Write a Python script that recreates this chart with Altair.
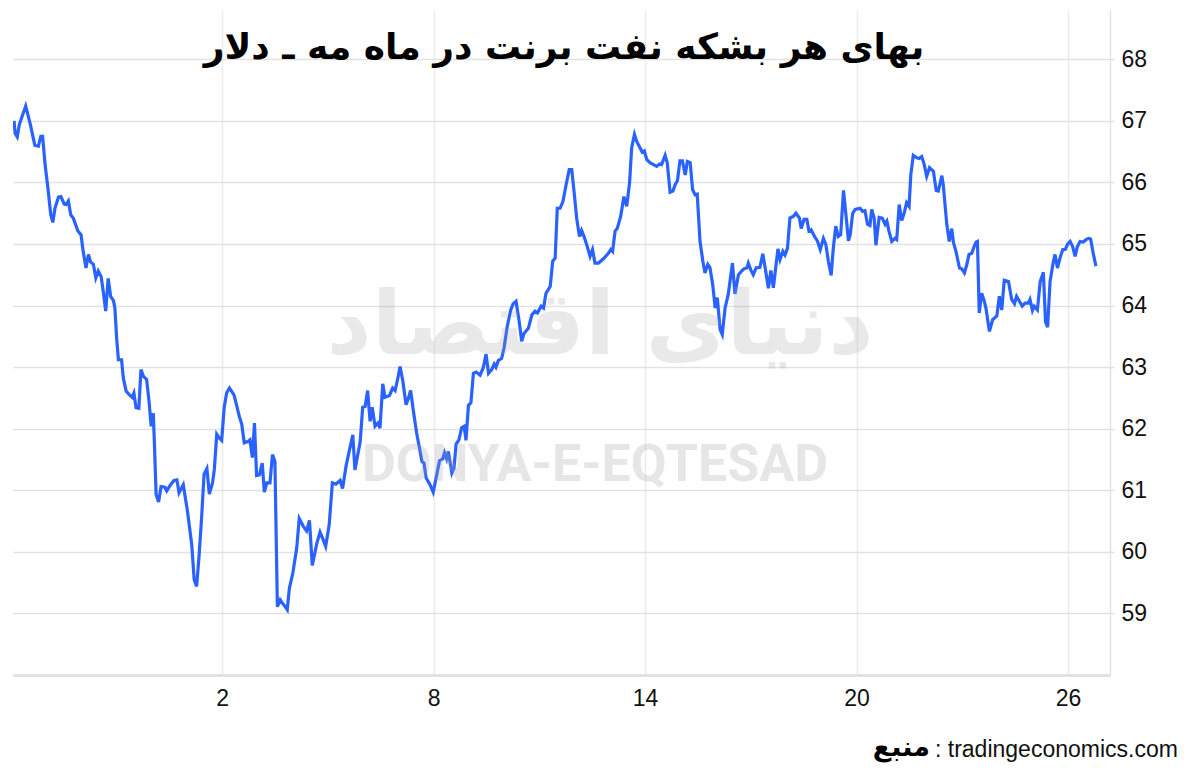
import altair as alt
import pandas as pd

# Day of May (fractional) and Brent price in USD per barrel
days = [
    -3.90, -3.87, -3.81, -3.75, -3.57, -3.45, -3.31, -3.21, -3.14, -3.09,
    -3.02, -2.93, -2.86, -2.80, -2.74, -2.64, -2.57, -2.48, -2.43, -2.36,
    -2.29, -2.22, -2.09, -2.00, -1.94, -1.86, -1.79, -1.73, -1.65, -1.58,
    -1.51, -1.43, -1.37, -1.30, -1.23, -1.16, -1.08, -1.04, -0.99, -0.94,
    -0.85, -0.80, -0.72, -0.61, -0.55, -0.50, -0.44, -0.36, -0.30, -0.23,
    -0.14, -0.07, -0.01, 0.05, 0.08, 0.13, 0.20, 0.27, 0.38, 0.43,
    0.55, 0.64, 0.72, 0.78, 0.90, 1.02, 1.14, 1.21, 1.28, 1.35,
    1.42, 1.49, 1.57, 1.64, 1.73, 1.78, 1.85, 1.92, 1.99, 2.06,
    2.13, 2.21, 2.34, 2.49, 2.56, 2.63, 2.73, 2.79, 2.86, 2.92,
    2.98, 3.06, 3.14, 3.20, 3.27, 3.36, 3.43, 3.50, 3.57, 3.65,
    3.71, 3.79, 3.85, 3.91, 4.01, 4.12, 4.19, 4.31, 4.40, 4.48,
    4.56, 4.69, 4.78, 4.86, 4.94, 5.04, 5.13, 5.23, 5.35, 5.42,
    5.52, 5.61, 5.71, 5.77, 5.92, 5.99, 6.06, 6.13, 6.20, 6.26,
    6.34, 6.42, 6.48, 6.56, 6.62, 6.75, 6.84, 6.91, 6.98, 7.05,
    7.13, 7.22, 7.29, 7.35, 7.43, 7.52, 7.60, 7.67, 7.73, 7.79,
    7.90, 7.99, 8.09, 8.17, 8.26, 8.31, 8.37, 8.42, 8.52, 8.58,
    8.64, 8.72, 8.80, 8.87, 8.92, 8.99, 9.06, 9.13, 9.21, 9.32,
    9.41, 9.49, 9.56, 9.65, 9.72, 9.77, 9.84, 9.93, 10.00, 10.09,
    10.19, 10.26, 10.34, 10.43, 10.50, 10.57, 10.69, 10.79, 10.88, 10.95,
    11.05, 11.12, 11.19, 11.31, 11.38, 11.45, 11.51, 11.59, 11.67, 11.76,
    11.85, 11.92, 11.99, 12.06, 12.14, 12.20, 12.27, 12.36, 12.44, 12.51,
    12.58, 12.68, 12.82, 12.96, 13.03, 13.08, 13.15, 13.21, 13.31, 13.40,
    13.48, 13.56, 13.62, 13.70, 13.76, 13.86, 13.92, 13.98, 14.05, 14.14,
    14.24, 14.33, 14.41, 14.47, 14.57, 14.63, 14.71, 14.79, 14.85, 14.92,
    14.99, 15.06, 15.14, 15.20, 15.28, 15.35, 15.42, 15.48, 15.56, 15.64,
    15.70, 15.78, 15.84, 15.92, 15.99, 16.05, 16.13, 16.19, 16.27, 16.36,
    16.48, 16.55, 16.65, 16.74, 16.81, 16.89, 16.93, 17.00, 17.07, 17.15,
    17.26, 17.34, 17.40, 17.50, 17.57, 17.64, 17.77, 17.83, 17.91, 17.97,
    18.04, 18.11, 18.21, 18.28, 18.38, 18.43, 18.51, 18.59, 18.65, 18.71,
    18.82, 18.89, 18.97, 19.06, 19.13, 19.20, 19.28, 19.34, 19.41, 19.48,
    19.55, 19.63, 19.69, 19.77, 19.82, 19.89, 19.96, 20.10, 20.17, 20.24,
    20.31, 20.38, 20.43, 20.50, 20.55, 20.64, 20.73, 20.81, 20.86, 20.92,
    21.00, 21.09, 21.14, 21.21, 21.28, 21.35, 21.42, 21.49, 21.54, 21.61,
    21.71, 21.78, 21.85, 21.92, 21.99, 22.07, 22.18, 22.26, 22.32, 22.42,
    22.46, 22.56, 22.63, 22.70, 22.75, 22.82, 22.92, 22.98, 23.06, 23.13,
    23.19, 23.27, 23.33, 23.39, 23.43, 23.48, 23.55, 23.62, 23.67, 23.77,
    23.86, 23.98, 24.05, 24.12, 24.19, 24.31, 24.40, 24.48, 24.54, 24.62,
    24.70, 24.78, 24.87, 24.92, 24.99, 25.04, 25.13, 25.21, 25.30, 25.36,
    25.42, 25.49, 25.57, 25.63, 25.70, 25.77, 25.85, 25.92, 25.99, 26.06,
    26.13, 26.20, 26.26, 26.34, 26.43, 26.51, 26.58, 26.64, 26.72, 26.79,
]

prices = [
    67.00, 66.80, 66.74, 66.94, 67.24, 66.97, 66.60, 66.59, 66.75, 66.75,
    66.29, 65.86, 65.48, 65.35, 65.58, 65.76, 65.77, 65.65, 65.64, 65.70,
    65.47, 65.42, 65.21, 65.15, 64.88, 64.61, 64.83, 64.71, 64.67, 64.45,
    64.56, 64.47, 64.23, 63.91, 64.44, 64.15, 64.08, 63.96, 63.47, 63.12,
    63.12, 62.82, 62.61, 62.54, 62.51, 62.58, 62.34, 62.33, 62.96, 62.85,
    62.80, 62.44, 62.04, 62.25, 61.79, 60.93, 60.81, 61.06, 61.05, 60.99,
    61.10, 61.16, 61.17, 60.96, 61.09, 60.66, 60.12, 59.55, 59.44, 59.95,
    60.55, 61.26, 61.35, 60.94, 61.12, 61.33, 61.91, 61.85, 61.81, 62.34,
    62.58, 62.66, 62.55, 62.20, 62.07, 61.77, 61.79, 61.82, 61.53, 62.09,
    61.24, 61.25, 61.44, 60.97, 61.12, 61.12, 61.58, 61.47, 59.11, 59.22,
    59.17, 59.11, 59.06, 59.41, 59.66, 60.07, 60.54, 60.41, 60.34, 60.51,
    59.78, 60.14, 60.32, 60.21, 60.09, 60.44, 61.12, 61.10, 61.16, 61.03,
    61.40, 61.64, 61.90, 61.33, 61.79, 62.35, 62.36, 62.62, 62.12, 62.35,
    62.04, 62.09, 62.01, 62.73, 62.51, 62.54, 62.66, 62.62, 62.80, 63.01,
    62.77, 62.39, 62.50, 62.62, 62.28, 61.93, 61.69, 61.47, 61.44, 61.20,
    61.09, 60.97, 61.25, 61.48, 61.51, 61.61, 61.51, 61.63, 61.28, 61.36,
    61.75, 61.82, 62.02, 62.04, 61.81, 62.38, 62.42, 62.90, 62.92, 62.87,
    62.99, 63.21, 62.90, 62.96, 63.05, 63.00, 63.11, 63.14, 63.31, 63.66,
    63.93, 64.03, 64.07, 63.74, 63.42, 63.55, 63.63, 63.85, 63.91, 63.88,
    63.99, 63.96, 64.20, 64.31, 64.72, 64.77, 65.58, 65.58, 65.69, 65.96,
    66.21, 66.21, 65.83, 65.42, 65.12, 65.22, 65.12, 64.96, 64.80, 64.91,
    64.69, 64.69, 64.76, 64.85, 64.91, 64.88, 65.21, 65.25, 65.45, 65.77,
    65.61, 65.99, 66.56, 66.78, 66.67, 66.56, 66.49, 66.51, 66.37, 66.32,
    66.29, 66.26, 66.30, 66.29, 66.44, 66.32, 65.84, 65.86, 65.96, 66.03,
    66.35, 66.35, 66.12, 66.34, 66.32, 65.88, 65.80, 65.81, 65.04, 64.72,
    64.53, 64.67, 64.62, 64.34, 63.96, 64.13, 63.61, 63.53, 63.96, 64.18,
    64.69, 64.19, 64.50, 64.56, 64.60, 64.61, 64.69, 64.58, 64.50, 64.61,
    64.62, 64.84, 64.64, 64.28, 64.57, 64.29, 64.92, 64.75, 64.88, 64.82,
    64.93, 65.42, 65.45, 65.50, 65.42, 65.25, 65.40, 65.40, 65.21, 65.23,
    65.11, 65.05, 64.91, 65.09, 64.99, 64.72, 64.49, 64.93, 65.29, 65.12,
    65.15, 65.87, 65.53, 65.05, 65.15, 65.50, 65.56, 65.58, 65.53, 65.54,
    65.32, 65.30, 65.56, 65.42, 64.98, 65.43, 65.42, 65.32, 65.37, 65.21,
    65.04, 65.09, 65.07, 65.64, 65.38, 65.50, 65.67, 65.61, 66.13, 66.44,
    66.40, 66.39, 66.42, 66.29, 66.10, 66.24, 66.18, 65.87, 65.86, 66.11,
    65.96, 65.32, 65.04, 65.25, 65.02, 64.88, 64.61, 64.60, 64.53, 64.67,
    64.83, 64.85, 64.95, 65.03, 65.04, 63.88, 64.20, 64.08, 63.96, 63.58,
    63.77, 63.83, 64.15, 63.93, 64.41, 64.39, 64.10, 64.03, 64.15, 64.07,
    63.99, 64.04, 64.04, 64.10, 63.92, 63.99, 63.93, 64.39, 64.54, 63.74,
    63.65, 64.39, 64.67, 64.83, 64.61, 64.77, 64.91, 64.91, 65.00, 65.04,
    64.96, 64.80, 64.95, 65.04, 65.03, 65.07, 65.09, 65.08, 64.83, 64.64,
]

x_ticks = [2, 8, 14, 20, 26]
y_ticks = [59, 60, 61, 62, 63, 64, 65, 66, 67, 68]

title_text = "بهای هر بشکه نفت برنت در ماه مه ـ دلار"
logo_fa = "دنیای اقتصاد"
logo_en = "DONYA-E-EQTESAD"
source_label = "منبع"
source_text = ": tradingeconomics.com"

df = pd.DataFrame({"day": days, "price": prices})

W, H = 1097, 665

line = alt.Chart(df).mark_line(color="#2962ff", strokeWidth=3.2, clip=True).encode(
    x=alt.X("day:Q",
            scale=alt.Scale(domain=[-3.93, 27.19], nice=False, zero=False),
            axis=alt.Axis(values=x_ticks, title=None, grid=True, gridColor="#ececec",
                          gridWidth=1.5, ticks=False, domain=True, domainColor="#e2e2e2",
                          domainWidth=3, labelFontSize=23, labelFont="Liberation Sans",
                          labelColor="#111111", labelPadding=12)),
    y=alt.Y("price:Q",
            scale=alt.Scale(domain=[58, 68.8], nice=False, zero=False),
            axis=alt.Axis(orient="right", values=y_ticks, title=None, grid=True,
                          gridColor="#e2e2e2", gridWidth=1.5, ticks=True, tickSize=4,
                          tickColor="#e2e2e2", tickWidth=1.5, domain=True,
                          domainColor="#e2e2e2", domainWidth=1.5, labelFontSize=23,
                          labelFont="Liberation Sans", labelColor="#111111",
                          labelPadding=7)),
)


def text_layer(txt, x, y, **kw):
    return alt.Chart(pd.DataFrame({"t": [txt]})).mark_text(**kw).encode(
        text="t:N", x=alt.value(x), y=alt.value(y))


wm_fa = text_layer(logo_fa, 587, 318, font="DejaVu Sans", fontSize=88,
                   fontWeight="bold", color="#a0a0a0", opacity=0.22,
                   align="center", baseline="middle")
wm_en = text_layer(logo_en, 582, 455, font="Roboto", fontSize=52,
                   fontWeight="bold", color="#a0a0a0", opacity=0.26,
                   align="center", baseline="middle")
title = text_layer(title_text, 551, 38, font="DejaVu Sans", fontSize=36,
                   fontWeight="bold", color="#000000", align="center",
                   baseline="middle")
src1 = text_layer(source_label, 917, 738, font="DejaVu Sans", fontSize=27,
                  fontWeight="bold", color="#000000", align="right",
                  baseline="middle")
src2 = text_layer(source_text, 922, 740, font="Liberation Sans", fontSize=23,
                  color="#111111", align="left", baseline="middle")

chart = alt.layer(line, wm_fa, wm_en, title, src1, src2).properties(
    width=W, height=H,
    padding={"left": 5, "top": 2, "right": 10, "bottom": 10},
    background="white",
).configure_view(stroke=None)

chart.save("out.html", embed_options={"renderer": "svg", "actions": False})
